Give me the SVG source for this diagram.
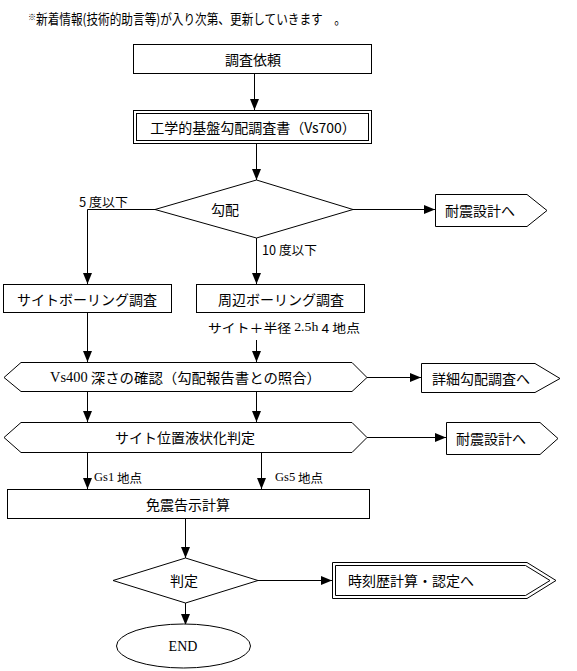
<svg xmlns="http://www.w3.org/2000/svg" width="577" height="671" viewBox="0 0 577 671">
<defs>
<marker id="ah" markerWidth="12" markerHeight="10" refX="11" refY="4.5" orient="auto" markerUnits="userSpaceOnUse">
<path d="M0,0 L11,4.5 L0,9 Z" fill="#000"/>
</marker>
</defs>
<style>
.s{fill:#fff;stroke:#000;stroke-width:1}
.c{fill:none;stroke:#000;stroke-width:1;marker-end:url(#ah)}
.l{fill:none;stroke:#000;stroke-width:1}
text{font-family:"Noto Sans CJK JP","Noto Sans",sans-serif;font-size:14px;fill:#000}
.m{text-anchor:middle;dominant-baseline:central}
.st{dominant-baseline:central}
.sf{font-family:"Liberation Serif","Noto Sans CJK JP",serif}
.sm{font-size:12.5px}
</style>
<rect width="577" height="671" fill="#fff"/>
<g id="note">
<text x="28" y="24" font-size="12"><tspan font-size="8" dy="-4">※</tspan><tspan dy="4" textLength="310" lengthAdjust="spacingAndGlyphs">新着情報(技術的助言等)が入り次第、更新していきます　。</tspan></text>
</g>
<g id="connectors">
<line class="c" x1="254.5" y1="74" x2="254.5" y2="110"/>
<line class="c" x1="256.5" y1="143" x2="256.5" y2="180"/>
<polyline class="c" points="155,209.5 87.5,209.5 87.5,284"/>
<line class="c" x1="353" y1="209.5" x2="435" y2="209.5"/>
<line class="c" x1="256.5" y1="238" x2="256.5" y2="284"/>
<line class="c" x1="87.5" y1="312" x2="87.5" y2="362"/>
<line class="c" x1="256.5" y1="340" x2="256.5" y2="362"/>
<line class="c" x1="367" y1="377.5" x2="421" y2="377.5"/>
<line class="c" x1="87.5" y1="391" x2="87.5" y2="422"/>
<line class="c" x1="256.5" y1="391" x2="256.5" y2="422"/>
<line class="c" x1="367" y1="437.5" x2="446" y2="437.5"/>
<line class="c" x1="87.5" y1="452" x2="87.5" y2="489"/>
<line class="c" x1="261.5" y1="452" x2="261.5" y2="489"/>
<line class="c" x1="185.5" y1="519" x2="185.5" y2="558"/>
<line class="c" x1="258" y1="580.5" x2="332" y2="580.5"/>
<line class="c" x1="185.5" y1="603" x2="185.5" y2="625"/>
<text x="79" y="201" class="st sm" textLength="49" lengthAdjust="spacingAndGlyphs">5 度以下</text>
<text x="262" y="249" class="st sm" textLength="55" lengthAdjust="spacingAndGlyphs">10 度以下</text>
<text x="208" y="327" class="st sm" textLength="152" lengthAdjust="spacingAndGlyphs">サイト＋半径 <tspan class="sf">2.5h</tspan> 4 地点</text>
<text x="94" y="477" class="st sm"><tspan class="sf">Gs1</tspan> 地点</text>
<text x="275" y="477" class="st sm"><tspan class="sf">Gs5</tspan> 地点</text>
</g>
<g id="n1">
<rect class="s" x="133.5" y="44.5" width="238" height="29"/>
<text x="253" y="59" class="m">調査依頼</text>
</g>
<g id="n2">
<rect class="s" x="133.5" y="110.5" width="238" height="33"/>
<rect class="l" x="136.5" y="113.5" width="232" height="27"/>
<text x="253" y="127" class="m">工学的基盤勾配調査書（Vs700）</text>
</g>
<g id="n3">
<polygon class="s" points="155,209.5 256.5,180 353,209.5 256.5,238"/>
<text x="225" y="209" class="m">勾配</text>
</g>
<g id="n4">
<polygon class="s" points="435.5,194.5 527,194.5 547,210.5 527,226.5 435.5,226.5"/>
<text x="445" y="210" class="st">耐震設計へ</text>
</g>
<g id="n5">
<rect class="s" x="3.5" y="284.5" width="168" height="28"/>
<text x="87" y="299" class="m">サイトボーリング調査</text>
</g>
<g id="n6">
<rect class="s" x="196.5" y="284.5" width="168" height="28"/>
<text x="281" y="299" class="m">周辺ボーリング調査</text>
</g>
<g id="n7">
<polygon class="s" points="4,377.5 21,362.5 352,362.5 367,377.5 352,391.5 21,391.5"/>
<text x="50" y="377" class="st" textLength="271" lengthAdjust="spacingAndGlyphs"><tspan class="sf">Vs400</tspan> 深さの確認（勾配報告書との照合）</text>
</g>
<g id="n8">
<polygon class="s" points="421.5,363.5 535,363.5 560,378.5 535,392.5 421.5,392.5"/>
<text x="432" y="378" class="st">詳細勾配調査へ</text>
</g>
<g id="n9">
<polygon class="s" points="4,437.5 21,422.5 352,422.5 367,437.5 352,452.5 21,452.5"/>
<text x="185" y="437" class="m">サイト位置液状化判定</text>
</g>
<g id="n10">
<polygon class="s" points="446.5,422.5 540,422.5 558,438.5 540,454.5 446.5,454.5"/>
<text x="456" y="438" class="st">耐震設計へ</text>
</g>
<g id="n11">
<rect class="s" x="7.5" y="489.5" width="362" height="29"/>
<text x="188" y="504" class="m">免震告示計算</text>
</g>
<g id="n12">
<polygon class="s" points="113,580.5 185.5,558 258,580.5 185.5,603"/>
<text x="184" y="580" class="m">判定</text>
</g>
<g id="n13">
<polygon class="s" points="332.5,562.5 527,562.5 556,580.5 527,598.5 332.5,598.5"/>
<polygon class="l" points="335.5,565.5 525.5,565.5 550,580.5 525.5,595.5 335.5,595.5"/>
<text x="348" y="580" class="st">時刻歴計算・認定へ</text>
</g>
<g id="n14">
<ellipse class="s" cx="183.5" cy="646" rx="67" ry="22"/>
<text x="183" y="646" class="m sf">END</text>
</g>
</svg>
